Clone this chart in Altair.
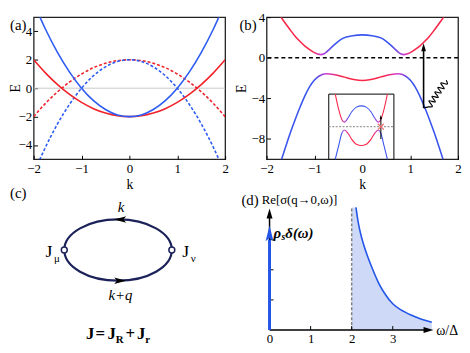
import altair as alt
import pandas as pd

FONT = "Liberation Serif"
RED_A = "#f0222a"
BLUE_A = "#2d5cf2"
RED_B = "#f7284a"
MAG_B = "#cf3bd3"
BLUE_B = "#3a55ee"
NAVY = "#1b2259"
BLUE_D = "#2255e8"
FILL_D = "#cdd9f7"

# ---------------- panel (a) ----------------
k_a = [-2.0, -1.75, -1.5, -1.25, -1.0, -0.75, -0.5, -0.25, 0.0, 0.25, 0.5, 0.75, 1.0, 1.25, 1.5, 1.75, 2.0]
E_red_solid = [2.0, 1.06, 0.25, -0.44, -1.0, -1.44, -1.75, -1.94, -2.0, -1.94, -1.75, -1.44, -1.0, -0.44, 0.25, 1.06, 2.0]
E_red_dashed = [-2.0, -1.06, -0.25, 0.44, 1.0, 1.44, 1.75, 1.94, 2.0, 1.94, 1.75, 1.44, 1.0, 0.44, -0.25, -1.06, -2.0]
E_blue_solid = [6.0, 4.13, 2.5, 1.13, 0.0, -0.88, -1.5, -1.88, -2.0, -1.88, -1.5, -0.88, 0.0, 1.13, 2.5, 4.13, 6.0]
E_blue_dashed = [-6.0, -4.13, -2.5, -1.13, 0.0, 0.88, 1.5, 1.88, 2.0, 1.88, 1.5, 0.88, 0.0, -1.13, -2.5, -4.13, -6.0]
ticks_a_x = [-2, -1, 0, 1, 2]
ticks_a_y = [-4, -2, 0, 2, 4]

# ---------------- panel (b) ----------------
k_b_up = [-1.7, -1.6, -1.5, -1.4, -1.3, -1.2, -1.1, -1.0, -0.93, -0.87, -0.8, -0.75, -0.7, -0.6, -0.5, -0.4, -0.2, 0.0,
          0.2, 0.4, 0.5, 0.6, 0.7, 0.75, 0.8, 0.87, 0.93, 1.0, 1.1, 1.2, 1.3, 1.4, 1.5, 1.6, 1.7]
E_b_up = [4.0, 3.35, 2.7, 2.1, 1.6, 1.15, 0.8, 0.5, 0.36, 0.31, 0.4, 0.56, 0.78, 1.22, 1.62, 1.93, 2.17, 2.25,
          2.17, 1.93, 1.62, 1.22, 0.78, 0.56, 0.4, 0.31, 0.36, 0.5, 0.8, 1.15, 1.6, 2.1, 2.7, 3.35, 4.0]
k_b_lo = [-1.7, -1.6, -1.5, -1.4, -1.3, -1.2, -1.1, -1.0, -0.9, -0.75, -0.6, -0.4, -0.2, 0.0,
          0.2, 0.4, 0.6, 0.75, 0.9, 1.0, 1.1, 1.2, 1.3, 1.4, 1.5, 1.6, 1.7]
E_b_lo = [-10.2, -8.75, -7.35, -6.05, -4.85, -3.75, -2.85, -2.2, -1.8, -1.58, -1.65, -1.88, -2.12, -2.25,
          -2.12, -1.88, -1.65, -1.58, -1.8, -2.2, -2.85, -3.75, -4.85, -6.05, -7.35, -8.75, -10.2]
ticks_b_x = [-2, -1, 0, 1, 2]
ticks_b_y = [-8, -4, 0, 4]
arrow_k = [1.28]
arrow_E = [-4.94]
arrow_E2 = [1.03]
wave_k = [1.278, 1.381, 1.464, 1.392, 1.526, 1.454, 1.588, 1.515, 1.649, 1.577, 1.711, 1.639, 1.773, 1.753]
wave_E = [-4.94, -4.84, -4.79, -4.24, -4.35, -3.80, -3.91, -3.37, -3.47, -2.93, -3.04, -2.49, -2.60, -2.22]
# inset (own coordinates u, v in [-1, 1])
u_in = [-0.8, -0.7, -0.6, -0.52, -0.4, -0.3, -0.15, 0.0, 0.15, 0.3, 0.4, 0.52, 0.6, 0.7, 0.8]
v_in_up = [1.0, 0.55, 0.22, 0.14, 0.28, 0.45, 0.6, 0.64, 0.6, 0.45, 0.28, 0.14, 0.22, 0.55, 1.0]
v_in_lo = [-1.0, -0.6, -0.2, -0.1, -0.22, -0.38, -0.54, -0.58, -0.54, -0.38, -0.22, -0.1, -0.2, -0.6, -1.0]
inset_arrow_u = [0.6]
inset_arrow_v = [-0.38]
inset_arrow_v2 = [0.3]

# ---------------- panel (c) ----------------
vertex_x = [-1.0, 1.0]
vertex_y = [0.0, 0.0]

# ---------------- panel (d) ----------------
w_curve = [2.105, 2.15, 2.2, 2.3, 2.4, 2.5, 2.66, 2.8, 3.0, 3.2, 3.46, 3.7, 3.95]
s_curve = [4.07, 3.65, 3.3, 2.8, 2.4, 2.05, 1.55, 1.22, 0.87, 0.67, 0.49, 0.36, 0.26]
gap_w = 2.0
gap_top = 4.07
delta_top = 3.0
ticks_d = [0, 1, 2, 3]
ticks_d_marks = [1, 2, 3]

ARROW_UP = "M0,-1L0.6,1L-0.6,1Z"
ARROW_RIGHT = "M1,0L-1,0.6L-1,-0.6Z"
ARROW_LEFT_C = "M-1,0L1,-0.55L0.55,0L1,0.55Z"
ARROW_RIGHT_C = "M1,0L-1,-0.55L-0.55,0L-1,0.55Z"
BLUE_ARROW = "M0,-1L0.5,1L0,0.6L-0.5,1Z"
X_SHAPE = "M-1,-1L1,1M-1,1L1,-1"
ELLIPSE = ("M-1,0C-1,-0.314,-0.552,-0.569,0,-0.569C0.552,-0.569,1,-0.314,1,0"
           "C1,0.314,0.552,0.569,0,0.569C-0.552,0.569,-1,0.314,-1,0Z")

FRAME = alt.ViewBackground(stroke="#222222", strokeWidth=1.3)


def axis_kw(values, title, lp, tp):
    kw = dict(values=values, domain=False, grid=False, ticks=True, tickSize=4,
              offset=-4, tickColor="black", tickWidth=1, labelPadding=lp, titlePadding=tp,
              labelFlush=False, labelFont=FONT, labelFontSize=13, labelColor="black",
              titleFont=FONT, titleFontSize=14, titleFontWeight="normal", titleColor="black")
    kw["title"] = title
    return alt.Axis(**kw)


def grad(stops):
    return alt.LinearGradient(gradient="linear",
                              stops=[alt.GradientStop(offset=o, color=c) for o, c in stops],
                              x1=0, x2=1, y1=0, y2=0)


# ======== (a) ========
xa = alt.X("k:Q", scale=alt.Scale(domain=[-2, 2], nice=False, zero=False), axis=axis_kw(ticks_a_x, "k", 3, 3))
ya = alt.Y("E:Q", scale=alt.Scale(domain=[-5, 5], nice=False, zero=False), axis=axis_kw(ticks_a_y, None, 2, 4))


def line_a(vals, color, dash=None):
    m = dict(color=color, strokeWidth=1.6, interpolate="monotone", clip=True)
    if dash:
        m["strokeDash"] = dash
    return alt.Chart(pd.DataFrame({"k": k_a, "E": vals})).mark_line(**m).encode(x=xa, y=ya)


zero_a = alt.Chart(pd.DataFrame({"E": [0]})).mark_rule(color="#c8c8c8", strokeWidth=1).encode(y=ya)
lab_a = alt.Chart(pd.DataFrame({"k": [-2], "E": [5], "t": ["(a)"]})).mark_text(
    align="left", baseline="middle", dx=-24, dy=8, font=FONT, fontSize=15, color="black"
).encode(x=xa, y=ya, text="t:N")
# rotated text: dy moves it horizontally (to the left when negative)
etitle_a = alt.Chart(pd.DataFrame({"k": [-2], "E": [0], "t": ["E"]})).mark_text(
    align="center", baseline="middle", angle=270, dy=-18, font=FONT, fontSize=14, color="black"
).encode(x=xa, y=ya, text="t:N")
pa = alt.layer(zero_a, line_a(E_red_dashed, RED_A, [3, 2]), line_a(E_blue_dashed, BLUE_A, [3, 2]),
               line_a(E_red_solid, RED_A), line_a(E_blue_solid, BLUE_A), lab_a, etitle_a
               ).properties(width=194, height=144, view=FRAME)

# ======== (b) ========
xb = alt.X("k:Q", scale=alt.Scale(domain=[-2, 2], nice=False, zero=False), axis=axis_kw(ticks_b_x, "k", 3, 3))
yb = alt.Y("E:Q", scale=alt.Scale(domain=[-10, 4], nice=False, zero=False), axis=axis_kw(ticks_b_y, "E", 2, 3))

zero_b = alt.Chart(pd.DataFrame({"E": [0]})).mark_rule(color="black", strokeWidth=1.3, strokeDash=[4, 3]).encode(y=yb)
up_grad = grad([(0, RED_B), (0.191, RED_B), (0.244, MAG_B), (0.324, BLUE_B), (0.676, BLUE_B),
                (0.756, MAG_B), (0.809, RED_B), (1, RED_B)])
lo_grad = grad([(0, BLUE_B), (0.206, BLUE_B), (0.279, MAG_B), (0.368, RED_B), (0.632, RED_B),
                (0.721, MAG_B), (0.794, BLUE_B), (1, BLUE_B)])
band_up = alt.Chart(pd.DataFrame({"k": k_b_up, "E": E_b_up})).mark_line(
    stroke=up_grad, strokeWidth=1.6, interpolate="monotone", clip=True).encode(x=xb, y=yb)
band_lo = alt.Chart(pd.DataFrame({"k": k_b_lo, "E": E_b_lo})).mark_line(
    stroke=lo_grad, strokeWidth=1.6, interpolate="monotone", clip=True).encode(x=xb, y=yb)
arr = alt.Chart(pd.DataFrame({"k": arrow_k, "E": arrow_E, "E2": arrow_E2})).mark_rule(
    color="black", strokeWidth=1.6).encode(x=xb, y=yb, y2=alt.Y2("E2:Q"))
arr_head = alt.Chart(pd.DataFrame({"k": arrow_k, "E": arrow_E2})).mark_point(
    shape=ARROW_UP, size=64, filled=True, color="black", opacity=1).encode(x=xb, y=yb)
wave = alt.Chart(pd.DataFrame({"k": wave_k, "E": wave_E, "i": list(range(len(wave_k)))})).mark_line(
    color="black", strokeWidth=1.2, interpolate="cardinal").encode(x=xb, y=yb, order="i:Q")
lab_b = alt.Chart(pd.DataFrame({"k": [-2], "E": [4], "t": ["(b)"]})).mark_text(
    align="right", baseline="middle", dx=-10, dy=8, font=FONT, fontSize=15, color="black"
).encode(x=xb, y=yb, text="t:N")
main_b = alt.layer(zero_b, band_up, band_lo, arr, arr_head, wave, lab_b)

ui = alt.X("u:Q", scale=alt.Scale(domain=[-1, 1], range=[63, 129], nice=False, zero=False), axis=None)
vi = alt.Y("v:Q", scale=alt.Scale(domain=[-1, 1], range=[144, 78], nice=False, zero=False), axis=None)
in_box = alt.Chart(pd.DataFrame({"u": [-1], "u2": [1], "v": [-1], "v2": [1]})).mark_rect(
    fill="white", stroke="black", strokeWidth=1).encode(x=ui, x2=alt.X2("u2:Q"), y=vi, y2=alt.Y2("v2:Q"))
in_dash = alt.Chart(pd.DataFrame({"u": [-1], "u2": [1], "v": [0]})).mark_rule(
    color="#9a9a9a", strokeWidth=1.2, strokeDash=[2, 1.5]).encode(x=ui, x2=alt.X2("u2:Q"), y=vi)
in_up_grad = grad([(0, RED_B), (0.11, RED_B), (0.175, MAG_B), (0.28, BLUE_B), (0.72, BLUE_B),
                   (0.825, MAG_B), (0.89, RED_B), (1, RED_B)])
in_lo_grad = grad([(0, BLUE_B), (0.11, BLUE_B), (0.175, MAG_B), (0.3, RED_B), (0.7, RED_B),
                   (0.825, MAG_B), (0.89, BLUE_B), (1, BLUE_B)])
in_up = alt.Chart(pd.DataFrame({"u": u_in, "v": v_in_up})).mark_line(
    stroke=in_up_grad, strokeWidth=1.1, interpolate="monotone").encode(x=ui, y=vi)
in_lo = alt.Chart(pd.DataFrame({"u": u_in, "v": v_in_lo})).mark_line(
    stroke=in_lo_grad, strokeWidth=1.1, interpolate="monotone").encode(x=ui, y=vi)
in_arr = alt.Chart(pd.DataFrame({"u": inset_arrow_u, "v": inset_arrow_v, "v2": inset_arrow_v2})).mark_rule(
    color="black", strokeWidth=1).encode(x=ui, y=vi, y2=alt.Y2("v2:Q"))
in_head = alt.Chart(pd.DataFrame({"u": inset_arrow_u, "v": inset_arrow_v2})).mark_point(
    shape=ARROW_UP, size=16, filled=True, color="black", opacity=1).encode(x=ui, y=vi)
in_x = alt.Chart(pd.DataFrame({"u": inset_arrow_u, "v": [0]})).mark_point(
    shape=X_SHAPE, size=36, filled=False, color="#f07070", strokeWidth=1.2, opacity=1).encode(x=ui, y=vi)
inset_b = alt.layer(in_box, in_dash, in_up, in_lo, in_arr, in_head, in_x)

pb = alt.layer(main_b, inset_b).resolve_scale(x="independent", y="independent").properties(
    width=194, height=144, view=FRAME)

# ======== (c) ========
xc = alt.X("x:Q", scale=alt.Scale(domain=[-1.569, 1.991], nice=False, zero=False), axis=None)
yc = alt.Y("y:Q", scale=alt.Scale(domain=[-1.486, 0.899], nice=False, zero=False), axis=None)


def txt_c(rows, **kw):
    d = pd.DataFrame(rows, columns=["x", "y", "t"])
    m = dict(font=FONT, color="black")
    m.update(kw)
    return alt.Chart(d).mark_text(**m).encode(x=xc, y=yc, text="t:N")


loop = alt.Chart(pd.DataFrame({"x": [0.0], "y": [0.0]})).mark_point(
    shape=ELLIPSE, size=11881, filled=False, color=NAVY, strokeWidth=2.2, opacity=1).encode(x=xc, y=yc)
head_top = alt.Chart(pd.DataFrame({"x": [0.04], "y": [0.569]})).mark_point(
    shape=ARROW_LEFT_C, size=144, filled=True, color="black", opacity=1).encode(x=xc, y=yc)
head_bot = alt.Chart(pd.DataFrame({"x": [0.04], "y": [-0.569]})).mark_point(
    shape=ARROW_RIGHT_C, size=144, filled=True, color="black", opacity=1).encode(x=xc, y=yc)
verts = alt.Chart(pd.DataFrame({"x": vertex_x, "y": vertex_y})).mark_point(
    shape="circle", size=36, filled=True, fill="white", stroke=NAVY, strokeWidth=1.5, opacity=1).encode(x=xc, y=yc)
lab_c = txt_c([(-1.569, 1.064, "(c)")], align="left", dx=-24, fontSize=15)
ks = txt_c([(0.055, 0.807, "k"), (0.046, -0.844, "k+q")], fontSize=15, fontStyle="italic")
Js = txt_c([(-1.284, -0.046, "J"), (1.257, -0.046, "J")], fontSize=18)
subs = txt_c([(-1.138, -0.165, "μ"), (1.398, -0.165, "ν")], fontSize=11)
formula_J = txt_c([(-0.596, -1.651, "J"), (-0.198, -1.651, "J"), (0.352, -1.651, "J")],
                  fontSize=17, fontWeight="bold", align="left", baseline="alphabetic")
formula_ops = txt_c([(-0.33, -1.651, "="), (0.228, -1.651, "+")],
                    fontSize=17, fontWeight="bold", align="center", baseline="alphabetic")
formula_sub = txt_c([(-0.042, -1.725, "R"), (0.508, -1.725, "r")],
                    fontSize=11, fontWeight="bold", align="left", baseline="alphabetic")
pc = alt.layer(loop, head_top, head_bot, verts, lab_c, ks, Js, subs, formula_J, formula_ops, formula_sub
               ).properties(width=194, height=130)

# ======== (d) ========
xd = alt.X("w:Q", scale=alt.Scale(domain=[-0.072, 4.59], nice=False, zero=False),
           axis=alt.Axis(values=ticks_d, title=None, domain=False, ticks=False, grid=False, labelPadding=3,
                         labelFlush=False, labelFont=FONT, labelFontSize=13, labelColor="black"))
yd = alt.Y("s:Q", scale=alt.Scale(domain=[0, 4.262], nice=False, zero=False), axis=None)

area_d = alt.Chart(pd.DataFrame({"w": [gap_w] + w_curve, "s": [gap_top] + s_curve})).mark_area(
    color=FILL_D, interpolate="monotone", opacity=1).encode(x=xd, y=yd)
gap_line = alt.Chart(pd.DataFrame({"w": [gap_w], "s": [0], "s2": [gap_top]})).mark_rule(
    color="#808080", strokeWidth=1.5, strokeDash=[3, 2]).encode(x=xd, y=yd, y2=alt.Y2("s2:Q"))
curve_d = alt.Chart(pd.DataFrame({"w": w_curve, "s": s_curve})).mark_line(
    color=BLUE_D, strokeWidth=1.6, interpolate="monotone").encode(x=xd, y=yd)
xaxis_d = alt.Chart(pd.DataFrame({"w": [0], "w2": [3.85], "s": [0]})).mark_rule(
    color="black", strokeWidth=1.5).encode(x=xd, x2=alt.X2("w2:Q"), y=yd)
yaxis_d = alt.Chart(pd.DataFrame({"w": [0], "s": [0], "s2": [3.85]})).mark_rule(
    color="black", strokeWidth=1.5).encode(x=xd, y=yd, y2=alt.Y2("s2:Q"))
xhead = alt.Chart(pd.DataFrame({"w": [3.87], "s": [0]})).mark_point(
    shape=ARROW_RIGHT, size=100, filled=True, color="black", opacity=1).encode(x=xd, y=yd)
yhead = alt.Chart(pd.DataFrame({"w": [0], "s": [3.87]})).mark_point(
    shape=ARROW_UP, size=100, filled=True, color="black", opacity=1).encode(x=xd, y=yd)
xt = alt.Chart(pd.DataFrame({"w": ticks_d_marks, "s": [0, 0, 0]})).mark_rule(
    color="black", strokeWidth=1).encode(x=xd, y=yd, y2=alt.value(126))
yt = alt.Chart(pd.DataFrame({"w": [0, 0, 0], "s": ticks_d_marks})).mark_rule(
    color="black", strokeWidth=1).encode(x=xd, x2=alt.value(7), y=yd)
delta = alt.Chart(pd.DataFrame({"w": [0], "s": [0], "s2": [delta_top]})).mark_rule(
    color=BLUE_D, strokeWidth=3).encode(x=xd, y=yd, y2=alt.Y2("s2:Q"))
delta_head = alt.Chart(pd.DataFrame({"w": [0], "s": [3.21]})).mark_point(
    shape=BLUE_ARROW, size=256, filled=True, color=BLUE_D, opacity=1).encode(x=xd, y=yd)


def txt_d(rows, **kw):
    d = pd.DataFrame(rows, columns=["w", "s", "t"])
    m = dict(font=FONT, color="black")
    m.update(kw)
    return alt.Chart(d).mark_text(**m).encode(x=xd, y=yd, text="t:N")


lab_d = txt_d([(-0.072, 4.262, "(d)")], align="right", dx=-8, dy=-2, fontSize=15)
ylab_d = txt_d([(0, 4.262, "Re[σ(q→0,ω)]")], align="left", dx=-8, dy=-2, fontSize=13)
rho = txt_d([(0, 3.21, "ρ")], align="left", dx=4, fontSize=15, fontWeight="bold", fontStyle="italic")
rho_s = txt_d([(0, 3.21, "s")], align="left", dx=12, dy=4, fontSize=10, fontWeight="bold", fontStyle="italic")
rho_rest = txt_d([(0, 3.21, "δ(ω)")], align="left", dx=16, fontSize=15, fontWeight="bold", fontStyle="italic")
xlab_d = txt_d([(4.06, 0, "ω/Δ")], align="left", dy=1, fontSize=14)

pd_chart = alt.layer(area_d, gap_line, curve_d, xaxis_d, yaxis_d, xhead, yhead, xt, yt, delta, delta_head,
                     lab_d, ylab_d, rho, rho_s, rho_rest, xlab_d).properties(width=194, height=130)

chart = (alt.concat(pa, pb, pc, pd_chart, columns=2, bounds="flush",
                    spacing={"row": 43, "column": 42})
         .properties(padding=0)
         .configure_view(stroke="transparent")
         .configure_axis(labelFont=FONT, titleFont=FONT)
         .configure_text(font=FONT))

chart.save("out.html", embed_options={"renderer": "svg", "actions": False})
